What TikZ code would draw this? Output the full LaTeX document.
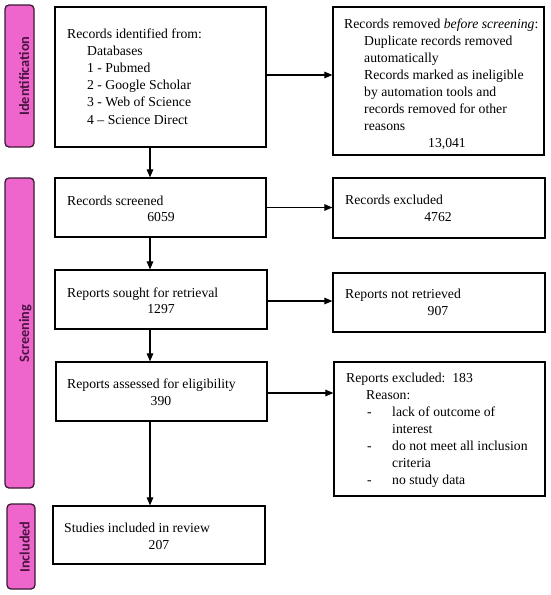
\documentclass[tikz,border=0pt]{standalone}
\usepackage{fontspec}
\setmainfont{Liberation Serif}
\newfontfamily\labelfont{Carlito}
\usetikzlibrary{arrows.meta}
\definecolor{sidepink}{HTML}{EE66CC}
\definecolor{sideborder}{HTML}{3A1A33}
\definecolor{sidetext}{HTML}{4A1442}
\tikzset{
  box/.style={draw=black, line width=1.2pt, rectangle, inner sep=0pt, fill=white},
  side/.style={draw=sideborder, line width=1.3pt, fill=sidepink, rounded corners=4pt, rectangle, inner sep=0pt},
  sidelbl/.style={rotate=90, anchor=base, text=sidetext, inner sep=0pt, font=\labelfont\bfseries\fontsize{14.3}{16}\selectfont},
  txt/.style={anchor=base west, inner sep=0pt, font=\fontsize{13.7}{17}\selectfont},
  num/.style={anchor=base, inner sep=0pt, font=\fontsize{13.7}{17}\selectfont},
  arr/.style={line width=1.1pt, -{Triangle[length=8pt,width=6.5pt]}},
}
\begin{document}
\begin{tikzpicture}[x=1pt,y=-1pt]
\useasboundingbox (0,0) rectangle (550,595);
\fill[white] (0,0) rectangle (550,595);

% side bars
\node[side, minimum width=29pt, minimum height=142pt] (s1) at (19.5,76) {};
\node[sidelbl] (s1t) at (29,76) {Identification};
\node[side, minimum width=29pt, minimum height=310pt] (s2) at (19.5,333) {};
\node[sidelbl] (s2t) at (29,333.5) {Screening};
\node[side, minimum width=28pt, minimum height=85pt] (s3) at (21,546.5) {};
\node[sidelbl] (s3t) at (29.5,547) {Included};

% boxes
\node[box, minimum width=211pt, minimum height=140pt] (b1) at (160.5,77) {};
\node[box, minimum width=211pt, minimum height=148pt] (b2) at (438.5,81) {};
\node[box, minimum width=211pt, minimum height=59pt] (b3) at (160.5,207.5) {};
\node[box, minimum width=212pt, minimum height=60pt] (b4) at (439,208) {};
\node[box, minimum width=212pt, minimum height=59pt] (b5) at (161,299.5) {};
\node[box, minimum width=212pt, minimum height=59pt] (b6) at (439,302.5) {};
\node[box, minimum width=211pt, minimum height=59pt] (b7) at (161.5,391.5) {};
\node[box, minimum width=211pt, minimum height=134pt] (b8) at (439.5,429) {};
\node[box, minimum width=212pt, minimum height=58pt] (b9) at (159,535) {};

% box 1 text
\node[txt] (t1a) at (67,38) {Records identified from:};
\node[txt] (t1b) at (87,55.2) {Databases};
\node[txt] (t1c) at (87,72.4) {1 - Pubmed};
\node[txt] (t1d) at (87,89.6) {2 - Google Scholar};
\node[txt] (t1e) at (87,106.8) {3 - Web of Science};
\node[txt] (t1f) at (87,124) {4 – Science Direct};

% box 2 text
\node[txt] (t2a) at (344,28) {Records removed \textit{before screening}:};
\node[txt] (t2b) at (364,45) {Duplicate records removed};
\node[txt] (t2c) at (364,62) {automatically};
\node[txt] (t2d) at (364,79) {Records marked as ineligible};
\node[txt] (t2e) at (364,96) {by automation tools and};
\node[txt] (t2f) at (364,113) {records removed for other};
\node[txt] (t2g) at (364,130) {reasons};
\node[num] (t2h) at (447,147) {13,041};

% box 3..9 text
\node[txt] (t3a) at (67,205) {Records screened};
\node[num] (t3b) at (161,221) {6059};
\node[txt] (t4a) at (345,204) {Records excluded};
\node[num] (t4b) at (438,221) {4762};
\node[txt] (t5a) at (67,297) {Reports sought for retrieval};
\node[num] (t5b) at (161,313) {1297};
\node[txt] (t6a) at (345,298) {Reports not retrieved};
\node[num] (t6b) at (438,315) {907};
\node[txt] (t7a) at (67,388) {Reports assessed for eligibility};
\node[num] (t7b) at (161,405) {390};
\node[txt] (t9a) at (64,532) {Studies included in review};
\node[num] (t9b) at (159,549) {207};

\node[txt] (t8a) at (346,382) {Reports excluded:\ \ 183};
\node[txt] (t8b) at (366,399) {Reason:};
\node[txt] (t8c) at (367,416) {-};
\node[txt] (t8d) at (392,416) {lack of outcome of};
\node[txt] (t8e) at (392,433) {interest};
\node[txt] (t8f) at (367,450) {-};
\node[txt] (t8g) at (392,450) {do not meet all inclusion};
\node[txt] (t8h) at (392,467) {criteria};
\node[txt] (t8i) at (367,484) {-};
\node[txt] (t8j) at (392,484) {no study data};

% connectors
\coordinate (col) at (150,0);
\draw[arr] ([yshift=2pt]b1.east) -- ([yshift=2pt]b1.east -| b2.west);
\draw[arr] (b3.east) -- (b3.east -| b4.west);
\draw[arr] ([yshift=-1.5pt]b5.east) -- ([yshift=-1.5pt]b5.east -| b6.west);
\draw[arr] ([yshift=-1.5pt]b7.east) -- ([yshift=-1.5pt]b7.east -| b8.west);
\draw[arr] (b1.south -| col) -- (b3.north -| col);
\draw[arr] (b3.south -| col) -- (b5.north -| col);
\draw[arr] (b5.south -| col) -- (b7.north -| col);
\draw[arr] (b7.south -| col) -- (b9.north -| col);
\end{tikzpicture}
\end{document}
